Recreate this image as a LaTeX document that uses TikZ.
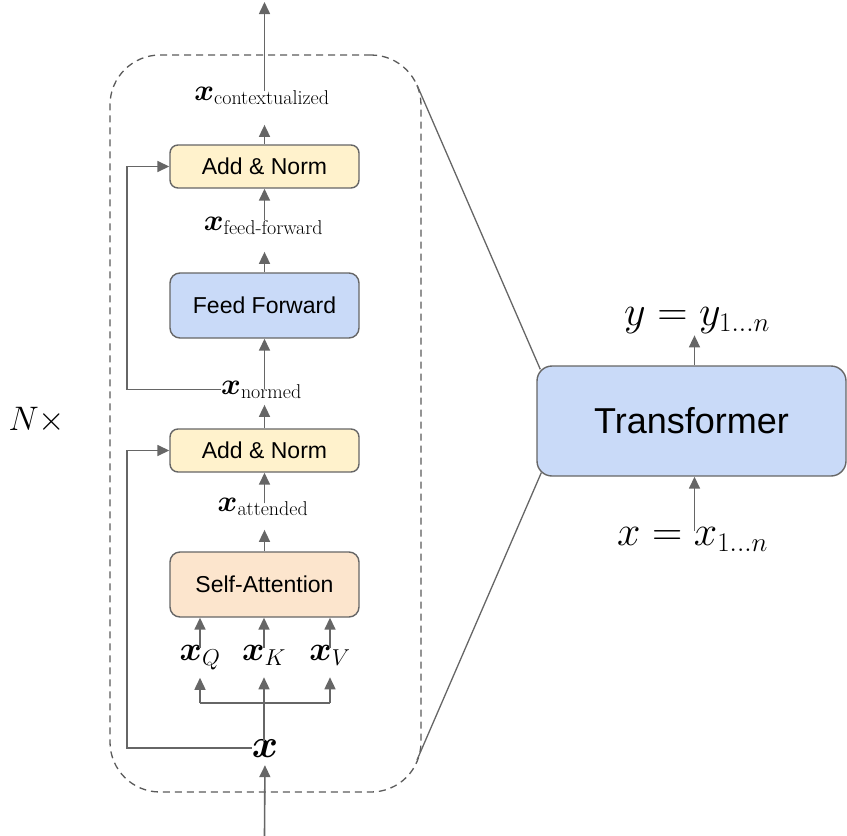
\RequirePackage{fix-cm}
\documentclass[tikz,border=0pt]{standalone}
\usepackage{amsmath}
\usepackage{fontspec}
\newfontfamily\boxfont{Liberation Sans}
\usetikzlibrary{arrows.meta,calc}
\DeclareMathSizes{34}{34}{23}{16}
\DeclareMathSizes{42}{42}{27}{19}
\definecolor{ln}{HTML}{666666}
\definecolor{dsh}{HTML}{5A5A5A}
\definecolor{yel}{HTML}{FFF2CC}
\definecolor{blu}{HTML}{C9DAF8}
\definecolor{ora}{HTML}{FCE5CD}
\newcommand{\subtxt}[1]{\text{\fontsize{20}{22}\selectfont #1}}
\newcommand{\bx}{\boldsymbol{x}}
\begin{document}
\begin{tikzpicture}[x=1pt,y=-1pt,
  blk/.style={draw=ln, line width=1.4pt, minimum width=189pt, inner sep=0pt, text=black,
              font=\boxfont\fontsize{23}{27}\selectfont},
  lab/.style={inner sep=0pt, anchor=base, text=black, font=\fontsize{30}{34}\selectfont},
  arr/.style={draw=ln, line width=1.6pt, -{Triangle[length=12pt,width=11pt]}},
  lin/.style={draw=ln, line width=1.6pt},
  thinl/.style={draw=ln, line width=1.3pt},
  dashbox/.style={draw=dsh, line width=1.3pt, dash pattern=on 7pt off 5pt, rounded corners=50pt,
                  minimum width=311pt, minimum height=737pt, inner sep=0pt}
]
\useasboundingbox (0,0) rectangle (847,836);

% dashed block
\node[dashbox] (stack) at (265.5,423.5) {};

% boxes
\node[blk, fill=yel, minimum height=43pt, rounded corners=8pt] (an1) at (264.5,166.5) {Add \& Norm};
\node[blk, fill=blu, minimum height=65pt, rounded corners=10pt] (ff) at (264.5,305.5) {Feed Forward};
\node[blk, fill=yel, minimum height=43pt, rounded corners=8pt] (an2) at (264.5,450.5) {Add \& Norm};
\node[blk, fill=ora, minimum height=65pt, rounded corners=10pt] (sa) at (264.5,584.5) {Self-Attention};

% labels
\node[lab] (ctx) at (262,100) {$\bx_{\subtxt{contextualized}}$};
\node[lab] (ffl) at (263.5,230) {$\bx_{\subtxt{feed-forward}}$};
\node[lab] (nrm) at (261.5,394) {$\bx_{\subtxt{normed}}$};
\node[lab] (att) at (263,511) {$\bx_{\subtxt{attended}}$};
\node[lab, font=\fontsize{34}{38}\selectfont] (xq) at (200,660) {$\bx_Q$};
\node[lab, font=\fontsize{34}{38}\selectfont] (xk) at (264,660) {$\bx_K$};
\node[lab, font=\fontsize{34}{38}\selectfont] (xv) at (330,660) {$\bx_V$};
\node[lab, font=\fontsize{40}{44}\selectfont] (xin) at (265,757) {$\bx$};
\node[inner sep=0pt, text=black, font=\fontsize{34}{38}\selectfont] (nx) at (37,420) {$N\times$};

% coordinates
\coordinate (top) at (264.5,2);
\coordinate (bot) at (264.5,836);
\coordinate (rl) at (127,0);
\coordinate (bq) at (200,703);
\coordinate (bv) at (330,703);

% vertical flow
\draw[arr, shorten <=-5pt] (an1.north |- ctx.north) -- (top);
\draw[arr, shorten >=20pt] (an1.north) -- (an1.north |- ctx.south);
\draw[arr, shorten <=-4pt] (an1.south |- ffl.north) -- (an1.south);
\draw[arr, shorten >=17pt] (ff.north) -- (ff.north |- ffl.south);
\draw[arr, shorten <=-9pt] (ff.south |- nrm.north) -- (ff.south);
\draw[arr, shorten >=6pt] (an2.north) -- (an2.north |- nrm.south);
\draw[arr, shorten <=-6pt] (an2.south |- att.north) -- (an2.south);
\draw[arr, shorten >=14pt] (sa.north) -- (sa.north |- att.south);
\draw[arr, shorten <=-3pt] (xq.north) -- (xq.north |- sa.south);
\draw[arr, shorten <=-3pt] (xk.north) -- (xk.north |- sa.south);
\draw[arr, shorten <=-3pt] (xv.north) -- (xv.north |- sa.south);
\draw[lin] (bq) -- (bv);
\draw[arr, shorten >=8pt] (bq) -- (xq.south);
\draw[arr, shorten >=12pt] (bv) -- (xv.south);
\draw[arr, shorten <=-2pt, shorten >=12pt] (xk.south |- xin.north) -- (xk.south);
\draw[arr, shorten >=8pt] (bot) -- (xin.south);

% residual connections
\draw[arr] (nrm.west) -| (an1.west -| rl) -- (an1.west);
\draw[arr] (xin.west) -| (an2.west -| rl) -- (an2.west);

% right side
\node[draw=ln, line width=1.4pt, fill=blu, rounded corners=15pt, minimum width=309pt, minimum height=110pt,
      inner sep=0pt, font=\boxfont\fontsize{36}{40}\selectfont] (tf) at (691.5,421) {Transformer};
\node[lab, font=\fontsize{42}{46}\selectfont] (ylab) at (697,325) {$y = y_{1\ldots n}$};
\node[lab, font=\fontsize{42}{46}\selectfont] (xlab) at (692.5,545) {$x = x_{1\ldots n}$};
\draw[arr, shorten >=2pt] ([xshift=3pt]tf.north) -- ([xshift=3pt]tf.north |- ylab.south);
\draw[arr, shorten <=-4pt] ([xshift=3pt]tf.south |- xlab.north) -- ([xshift=3pt]tf.south);

% zoom lines
\coordinate (c1) at (417,85);
\coordinate (c2) at (417,760);
\draw[thinl] (c1) -- ($(tf.north west)+(4,4)$);
\draw[thinl] (c2) -- ($(tf.south west)+(5,-4)$);
\end{tikzpicture}
\end{document}
